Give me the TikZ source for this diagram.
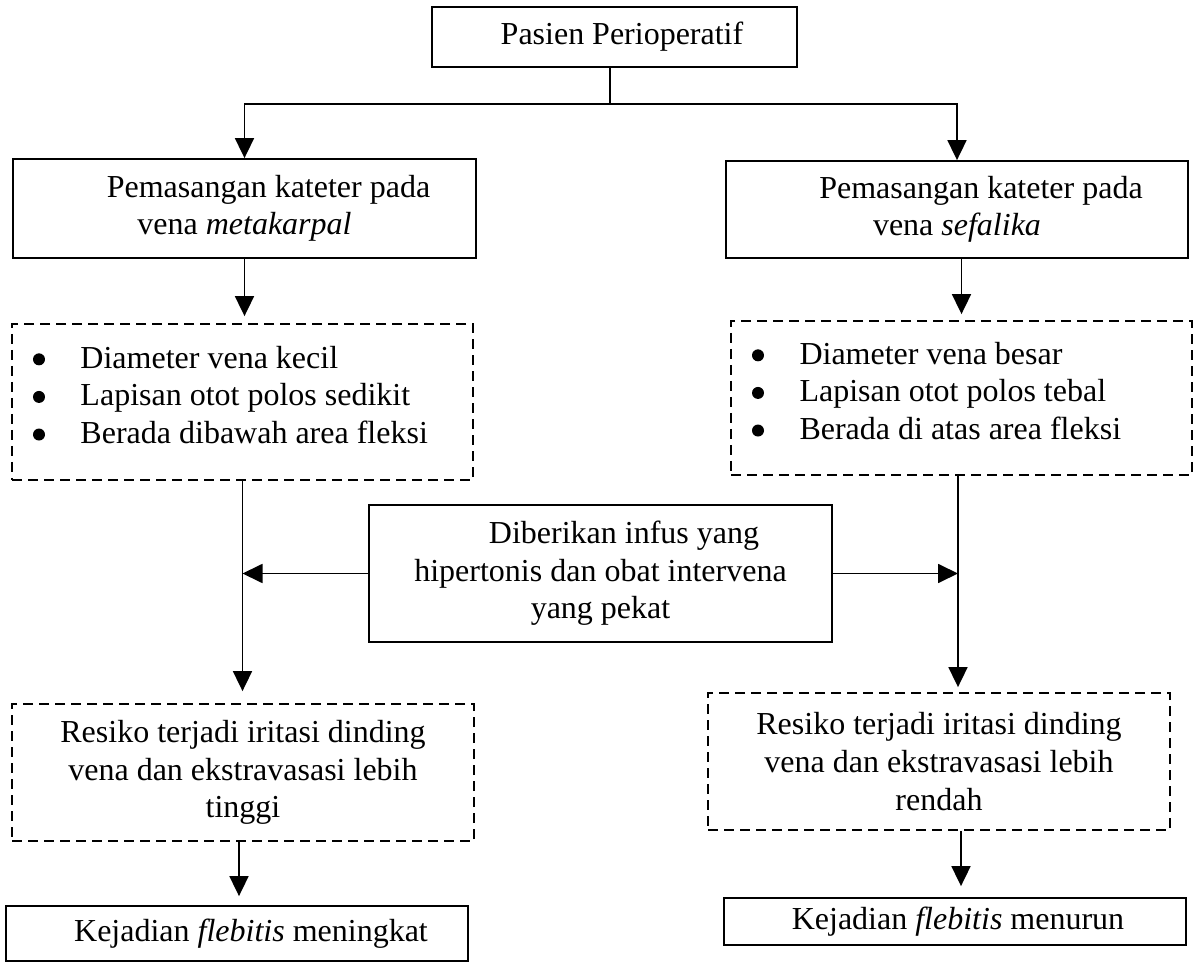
\documentclass[tikz,border=0pt]{standalone}
\usepackage{fontspec}
\setmainfont{Liberation Serif}
\usetikzlibrary{arrows.meta}
\newcommand{\butir}{\makebox[24.25pt][l]{\tikz[baseline=0pt]{\useasboundingbox (0pt,0pt) rectangle (7pt,7pt); \fill (3.5pt,4.5pt) circle[radius=3pt];}}}

\begin{document}
\begin{tikzpicture}
	[x=0.5pt, y=-0.5pt,
	every node/.style = {font=\fontsize{16}{18.8}\selectfont, align=center, inner sep=0pt},
	box/.style = {shape=rectangle, draw, line width=0.9pt},
	dashbox/.style = {box, dash pattern=on 5pt off 3pt},
	bulletbox/.style = {dashbox, align=flush left, inner xsep=10pt, text width=210.5pt},
	link/.style = {draw, line width=0.9pt},
	arr/.style = {link, -{Triangle[width=9.5pt,length=10pt]}}]
	\useasboundingbox (0,0) rectangle (1194,962);
	\node[box, minimum width=182.5pt, minimum height=30pt] (pasien) at (614.5,37)
		{\hspace*{7.5pt}Pasien Perioperatif};
	\node[box, minimum width=231.5pt, minimum height=49.5pt] (kiri) at (244.5,208.5)
		{\hspace*{24pt}Pemasangan kateter pada\\vena \textit{metakarpal}};
	\node[box, minimum width=231pt, minimum height=48.5pt] (kanan) at (957,209.5)
		{\hspace*{24pt}Pemasangan kateter pada\\vena \textit{sefalika}};
	\node[bulletbox, minimum height=78pt] (cirikiri) at (242.5,402)
		{\butir Diameter vena kecil\\
		 \butir Lapisan otot polos sedikit\\
		 \butir Berada dibawah area fleksi\par\kern7pt};
	\node[bulletbox, minimum height=77pt] (cirikanan) at (961.5,398)
		{\butir Diameter vena besar\\
		 \butir Lapisan otot polos tebal\\
		 \butir Berada di atas area fleksi\par\kern7pt};
	\node[box, minimum width=231.5pt, minimum height=68.5pt] (infus) at (600.5,573.5)
		{\hspace*{23.5pt}Diberikan infus yang\\hipertonis dan obat intervena\\yang pekat};
	\node[dashbox, minimum width=231pt, minimum height=68.5pt] (resikokiri) at (243,772.5)
		{Resiko terjadi iritasi dinding\\vena dan ekstravasasi lebih\\tinggi};
	\node[dashbox, minimum width=231pt, minimum height=68.5pt] (resikokanan) at (939,761.5)
		{Resiko terjadi iritasi dinding\\vena dan ekstravasasi lebih\\rendah};
	\node[box, minimum width=231pt, minimum height=27.5pt] (naik) at (237,933.5)
		{\hspace*{14pt}Kejadian \textit{flebitis} meningkat};
	\node[box, minimum width=231pt, minimum height=23.5pt] (turun) at (955,921.5)
		{\hspace*{3pt}Kejadian \textit{flebitis} menurun};
	\coordinate (cabang) at (610,104);
	\coordinate (garis) at ([xshift=-1.75pt]cirikanan.south);
	\draw[link] (pasien.south -| cabang) -- (cabang);
	\draw[arr] (cabang) -| (kiri);
	\draw[arr] (cabang) -| (kanan);
	\draw[arr, shorten >=3.5pt] (kiri.south) -- (kiri.south |- cirikiri.north);
	\draw[arr, shorten >=3pt] (cirikanan.north |- kanan.south) -- (cirikanan.north);
	\draw[arr, shorten >=6pt] (cirikiri.south) -- (cirikiri.south |- resikokiri.north);
	\draw[arr, shorten >=2.5pt] (garis) -- (garis |- resikokanan.north);
	\draw[arr] (infus.west) -- (infus.west -| cirikiri.south);
	\draw[arr] (infus.east) -- (infus.east -| garis);
	\draw[arr, shorten >=4.5pt] ([xshift=-2pt]resikokiri.south) -- ([xshift=-2pt]resikokiri.south |- naik.north);
	\draw[arr, shorten >=5.5pt] ([xshift=11pt]resikokanan.south) -- ([xshift=11pt]resikokanan.south |- turun.north);
\end{tikzpicture}
\end{document}
